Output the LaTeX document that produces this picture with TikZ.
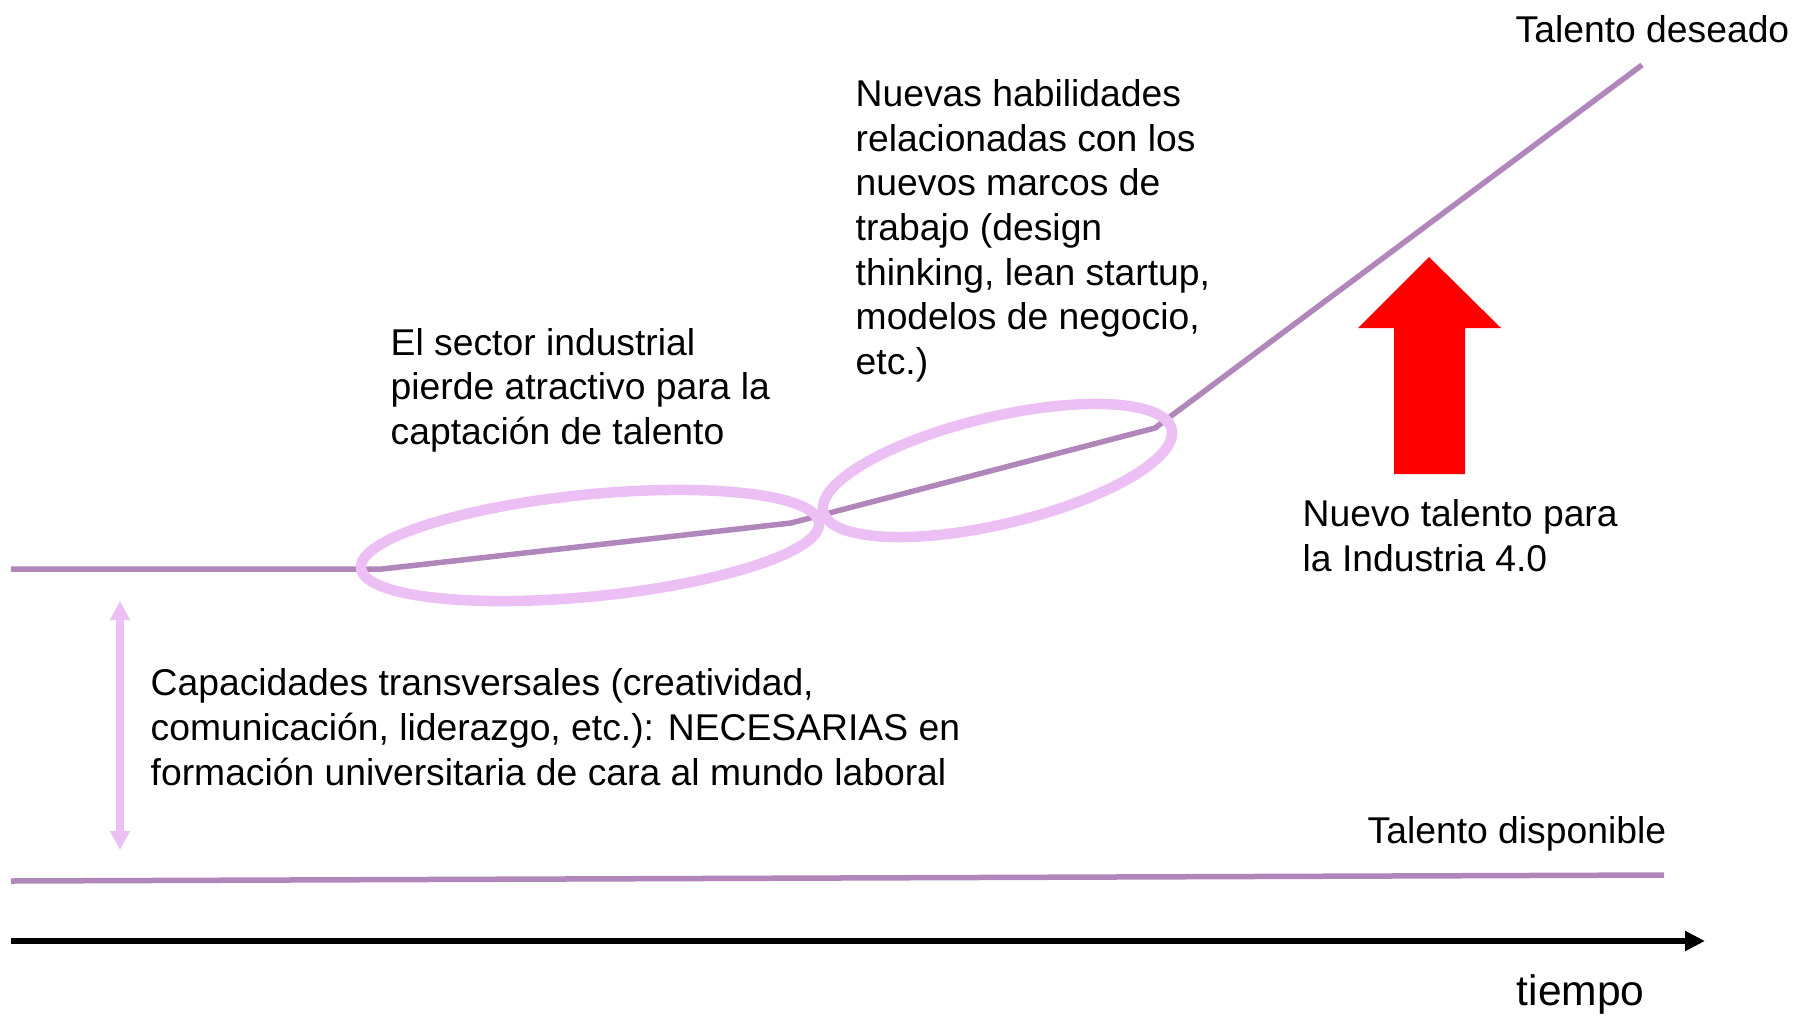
\documentclass[tikz,border=0pt]{standalone}
\usepackage{fontspec}
\setmainfont{Liberation Sans}
\usetikzlibrary{arrows.meta,shapes.geometric}
\definecolor{talentpurple}{RGB}{177,135,187}
\definecolor{ovalpink}{RGB}{236,192,245}
\newcommand{\LEFTX}{11}
\newcommand{\RIGHTX}{1664}
\newcommand{\TOPLINEY}{569}
\newcommand{\BOTLINEY}{881}
\newcommand{\AXISY}{941}
\newcommand{\GAPX}{120}
\newcommand{\TXTSIZE}{\fontsize{10.6}{12.7}\selectfont}

\begin{document}
\begin{tikzpicture}[x=0.01cm,y=-0.01cm,
	talentline/.style={talentpurple, line width=0.055cm},
	oval/.style={draw=ovalpink, line width=0.105cm, ellipse, inner sep=0pt, anchor=center},
	gaparrow/.style={ovalpink, line width=0.07cm, {Triangle[width=0.19cm,length=0.19cm]}-{Triangle[width=0.19cm,length=0.19cm]}},
	timeaxis/.style={black, line width=0.06cm, -{Triangle[width=0.19cm,length=0.2cm]}}]
\tikzstyle{every node}=[font=\TXTSIZE, inner sep=0pt, anchor=base west, align=left]
\useasboundingbox (0,0) rectangle (1794,1015);

% Talent lines
	\coordinate (wantStart) at ({\LEFTX},{\TOPLINEY});
	\coordinate (wantBendA) at (382,{\TOPLINEY});
	\coordinate (wantBendB) at (791,523);
	\coordinate (wantBendC) at (1155,428);
	\coordinate (wantEnd) at (1642,65);
	\coordinate (haveStart) at ({\LEFTX},{\BOTLINEY});
	\coordinate (haveEnd) at ({\RIGHTX},875);

	\draw[talentline] (wantStart) -- (wantBendA) -- (wantBendB) -- (wantBendC) -- (wantEnd);
	\draw[talentline] (haveStart) -- (haveEnd);

% Ovals
	\node[oval, minimum width=4.6cm, minimum height=1.02cm, rotate=5.63] (ovalSector) at (590,545.5) {};
	\node[oval, minimum width=3.578cm, minimum height=1.072cm, rotate=13.35] (ovalSkills) at (997.5,470.5) {};

% Gap arrow
	\coordinate (gapTop) at ({\GAPX},601);
	\coordinate (gapBot) at ({\GAPX},850);
	\draw[gaparrow] (gapTop) -- (gapBot);

% Time axis
	\coordinate (axisStart) at ({\LEFTX},{\AXISY});
	\coordinate (axisEnd) at (1705,{\AXISY});
	\draw[timeaxis] (axisStart) -- (axisEnd);

% Red arrow
	\fill[red] (1429,257) -- (1501,328) -- (1465,328) -- (1465,474) -- (1394,474) -- (1394,328) -- (1358,328) -- cycle;

% Labels (base = last line)
	\node (wantLabel) at (1515,42) {Talento deseado};
	\node (skillsLabel) at (855,374.6) {Nuevas habilidades\\relacionadas con los\\nuevos marcos de\\trabajo (design\\thinking, lean startup,\\modelos de negocio,\\etc.)};
	\node (sectorLabel) at (390,444.6) {El sector industrial\\pierde atractivo para la\\captación de talento};
	\node (newLabel) at (1302,571) {Nuevo talento para\\la Industria 4.0};
	\node (gapLabel) at (150,785) {Capacidades transversales (creatividad,\\comunicación, liderazgo, etc.): NECESARIAS en\\formación universitaria de cara al mundo laboral};
	\node (haveLabel) at (1367,843) {Talento disponible};
	\node[font=\fontsize{12.1}{14.5}\selectfont] (timeLabel) at (1516,1005) {tiempo};

\end{tikzpicture}
\end{document}
